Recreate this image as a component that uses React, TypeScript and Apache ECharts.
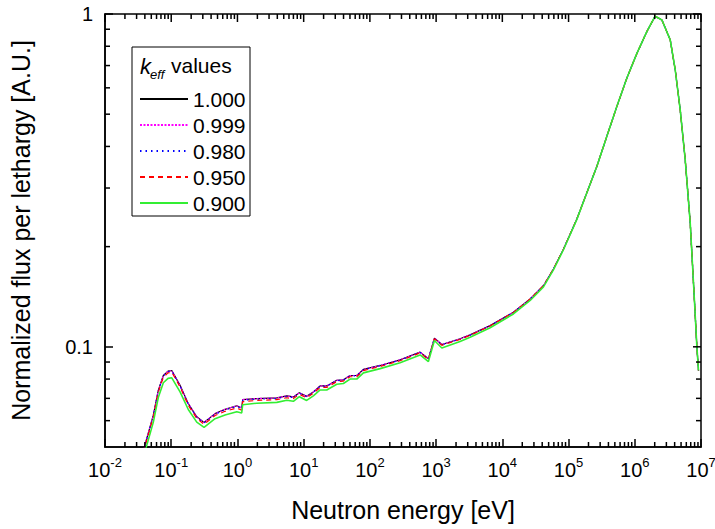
import React, { useEffect, useRef } from 'react';
import * as echarts from 'echarts';

// Neutron energy grid (eV)
const energyEV = [
  0.035, 0.040, 0.0537, 0.0638, 0.076, 0.0895, 0.102, 0.136, 0.181, 0.243,
  0.313, 0.459, 0.65, 0.976, 1.16, 1.2, 1.96, 3.93, 5.56, 6.99,
  8.61, 11.1, 14.0, 17.7, 22.3, 31.6, 39.8, 50.2, 63.4, 79.8,
  143, 286, 573, 765, 943, 1220, 2300, 3260, 6540, 14700,
  26300, 41800, 59100, 83700, 133000, 189000, 268000, 379000, 537000, 760000,
  1080000, 1520000, 2030000, 2570000, 3430000, 4080000, 4850000, 5770000, 6870000, 7890000,
  8670000, 9170000,
];

// Normalized flux per lethargy for each k_eff
const flux1000 = [
  0.0459, 0.0506, 0.0623, 0.0740, 0.0820, 0.0845, 0.0849, 0.0766, 0.0675, 0.0616,
  0.0592, 0.0630, 0.0649, 0.0665, 0.0655, 0.0694, 0.0699, 0.0702, 0.0712, 0.0707,
  0.0728, 0.0710, 0.0732, 0.0763, 0.0763, 0.0793, 0.0796, 0.0820, 0.0820, 0.0855,
  0.0879, 0.0914, 0.0964, 0.0921, 0.1062, 0.1016, 0.1057, 0.1086, 0.1158, 0.1270,
  0.1392, 0.1526, 0.1712, 0.1965, 0.2416, 0.2904, 0.3489, 0.4292, 0.5279, 0.6420,
  0.7627, 0.885, 0.985, 0.959, 0.836, 0.680, 0.516, 0.3655, 0.2362, 0.1424,
  0.0998, 0.0849,
];
const flux0999 = [
  0.0459, 0.0506, 0.0623, 0.0739, 0.0820, 0.0845, 0.0848, 0.0765, 0.0675, 0.0616,
  0.0592, 0.0630, 0.0649, 0.0665, 0.0655, 0.0694, 0.0699, 0.0702, 0.0712, 0.0707,
  0.0728, 0.0710, 0.0732, 0.0763, 0.0763, 0.0793, 0.0796, 0.0820, 0.0820, 0.0855,
  0.0879, 0.0914, 0.0964, 0.0921, 0.1062, 0.1016, 0.1057, 0.1086, 0.1158, 0.1270,
  0.1392, 0.1526, 0.1712, 0.1965, 0.2416, 0.2904, 0.3489, 0.4292, 0.5279, 0.6420,
  0.7627, 0.885, 0.985, 0.959, 0.836, 0.680, 0.516, 0.3655, 0.2362, 0.1424,
  0.0998, 0.0849,
];
const flux0980 = [
  0.0457, 0.0504, 0.0621, 0.0737, 0.0817, 0.0842, 0.0846, 0.0763, 0.0672, 0.0614,
  0.0590, 0.0627, 0.0646, 0.0662, 0.0652, 0.0691, 0.0696, 0.0699, 0.0709, 0.0704,
  0.0725, 0.0708, 0.0730, 0.0761, 0.0761, 0.0791, 0.0794, 0.0818, 0.0818, 0.0853,
  0.0877, 0.0912, 0.0962, 0.0919, 0.1060, 0.1014, 0.1055, 0.1084, 0.1157, 0.1269,
  0.1392, 0.1526, 0.1712, 0.1965, 0.2416, 0.2904, 0.3489, 0.4292, 0.5279, 0.6420,
  0.7627, 0.885, 0.985, 0.959, 0.836, 0.680, 0.516, 0.3655, 0.2362, 0.1424,
  0.0998, 0.0849,
];
const flux0950 = [
  0.0453, 0.0500, 0.0616, 0.0731, 0.0810, 0.0835, 0.0839, 0.0757, 0.0667, 0.0609,
  0.0585, 0.0622, 0.0640, 0.0655, 0.0645, 0.0684, 0.0690, 0.0694, 0.0703, 0.0699,
  0.0720, 0.0703, 0.0725, 0.0755, 0.0755, 0.0786, 0.0789, 0.0813, 0.0813, 0.0848,
  0.0873, 0.0908, 0.0958, 0.0915, 0.1057, 0.1010, 0.1052, 0.1082, 0.1155, 0.1267,
  0.1392, 0.1526, 0.1712, 0.1965, 0.2416, 0.2904, 0.3489, 0.4292, 0.5279, 0.6420,
  0.7627, 0.885, 0.985, 0.959, 0.836, 0.680, 0.516, 0.3655, 0.2362, 0.1424,
  0.0998, 0.0849,
];
const flux0900 = [
  0.0438, 0.0483, 0.0594, 0.0704, 0.0780, 0.0804, 0.0807, 0.0732, 0.0648, 0.0594,
  0.0573, 0.0608, 0.0624, 0.0638, 0.0633, 0.0670, 0.0677, 0.0681, 0.0691, 0.0686,
  0.0708, 0.0690, 0.0712, 0.0742, 0.0742, 0.0772, 0.0776, 0.0800, 0.0800, 0.0835,
  0.0860, 0.0895, 0.0945, 0.0903, 0.1045, 0.0992, 0.1038, 0.1068, 0.1141, 0.1255,
  0.1378, 0.1514, 0.1702, 0.1957, 0.2411, 0.2904, 0.3489, 0.4292, 0.5279, 0.6420,
  0.7627, 0.885, 0.985, 0.959, 0.836, 0.680, 0.516, 0.3655, 0.2362, 0.1424,
  0.0998, 0.0849,
];

const seriesNames = ['1.000', '0.999', '0.980', '0.950', '0.900'];
const xTickExponents = [-2, -1, 0, 1, 2, 3, 4, 5, 6, 7];
const yTickValues = [0.1, 1];
const yMin = 0.05;
const yMax = 1;

const FONT = "'Liberation Sans', Arial, Helvetica, sans-serif";

export default function App() {
  const ref = useRef<HTMLDivElement>(null);

  useEffect(() => {
    document.body.style.margin = '0';
    const chart = echarts.init(ref.current!, null, { renderer: 'svg' });

    const xMin = xTickExponents[0];
    const xMax = xTickExponents[xTickExponents.length - 1];
    const yMinL = Math.log10(yMin);
    const yMaxL = Math.log10(yMax);

    const xMinor: number[] = [];
    for (let n = xMin; n < xMax; n++) {
      for (let k = 2; k <= 9; k++) xMinor.push(n + Math.log10(k));
    }
    const yMinor: number[] = [];
    for (const base of [0.01, 0.1]) {
      for (let k = 2; k <= 9; k++) {
        const v = base * k;
        if (v > yMin + 1e-9 && v < yMax - 1e-9) yMinor.push(Math.log10(v));
      }
    }
    const yMajor = yTickValues.map((v) => Math.log10(v));

    const MAJ = 8;
    const MIN = 5;
    // [x, y, dx(px), dy(px)] — tick starts on an axis and points inward
    const tickData: number[][] = [];
    xTickExponents.forEach((x) => { tickData.push([x, yMaxL, 0, MAJ]); });
    xMinor.forEach((x) => { tickData.push([x, yMinL, 0, -MIN]); tickData.push([x, yMaxL, 0, MIN]); });
    yMajor.forEach((y) => { tickData.push([xMax, y, -MAJ, 0]); });
    yMinor.forEach((y) => { tickData.push([xMin, y, MIN, 0]); tickData.push([xMax, y, -MIN, 0]); });

    const axisLine = { show: true, onZero: false, lineStyle: { color: '#000', width: 1.5 } };
    const majorTick = (vals: number[]) => ({
      show: true, inside: true, length: MAJ, customValues: vals,
      lineStyle: { color: '#000', width: 1.5 },
    });

    const styles = [
      { color: '#000000', type: 'solid', width: 1.2 },
      { color: '#ff00ff', type: [2, 1.5], width: 1.2 },
      { color: '#0000ff', type: [1.5, 4], width: 1.2 },
      { color: '#ff0000', type: [5, 4], width: 1.2 },
      { color: '#33ee33', type: 'solid', width: 1.6 },
    ];
    const fluxes = [flux1000, flux0999, flux0980, flux0950, flux0900];

    const option: any = {
      animation: false,
      grid: {
        left: 105, right: 14, top: 14, bottom: 82, containLabel: false, outerBoundsMode: 'none',
        show: true, borderColor: '#000', borderWidth: 1.5, backgroundColor: 'transparent',
      },
      xAxis: {
        type: 'value', min: xMin, max: xMax, interval: 1,
        splitLine: { show: false }, axisLine, axisTick: majorTick(xTickExponents),
        name: 'Neutron energy [eV]', nameLocation: 'middle', nameGap: 50,
        nameTextStyle: { fontSize: 25, color: '#000', fontFamily: FONT },
        axisLabel: {
          show: true, margin: 9,
          formatter: (v: number) => `{b|10}{s|${Math.round(v)}}`,
          rich: {
            b: { fontSize: 20, fontFamily: FONT, color: '#000', lineHeight: 28 },
            s: { fontSize: 13, fontFamily: FONT, color: '#000', lineHeight: 13, verticalAlign: 'top' },
          },
        },
      },
      yAxis: {
        type: 'value', min: yMinL, max: yMaxL,
        splitLine: { show: false }, axisLine, axisTick: majorTick(yMajor),
        name: 'Normalized flux per lethargy [A.U.]', nameLocation: 'middle', nameGap: 72,
        nameTextStyle: { fontSize: 25, color: '#000', fontFamily: FONT },
        axisLabel: {
          show: true, margin: 12, fontSize: 20, color: '#000', fontFamily: FONT,
          customValues: yMajor,
          formatter: (v: number) => {
            const t = yTickValues.find((tv) => Math.abs(Math.log10(tv) - v) < 1e-6);
            return t === undefined ? '' : String(t);
          },
        },
      },
      legend: {
        orient: 'vertical', left: 139, top: 86, padding: 0,
        itemWidth: 48, itemHeight: 14, itemGap: 0, selectedMode: false,
        itemStyle: { color: 'rgba(0,0,0,0)', borderWidth: 0, opacity: 0 },
        textStyle: { fontSize: 21, fontFamily: FONT, color: '#000', lineHeight: 26 },
        data: seriesNames,
      },
      graphic: [
        {
          type: 'rect', z: 100,
          shape: { x: 132, y: 47, width: 118, height: 169 },
          style: { fill: 'none', stroke: '#000', lineWidth: 1 },
        },
        { type: 'text', z: 100, x: 140, y: 55, style: { text: 'k', font: `italic 22px ${FONT}`, fill: '#000', verticalAlign: 'top' } },
        { type: 'text', z: 100, x: 150, y: 68, style: { text: 'eff', font: `italic 13px ${FONT}`, fill: '#000', verticalAlign: 'top' } },
        { type: 'text', z: 100, x: 171, y: 55, style: { text: 'values', font: `21px ${FONT}`, fill: '#000', verticalAlign: 'top' } },
      ],
      series: [
        ...seriesNames.map((name, si) => ({
          name,
          type: 'line',
          symbol: 'none',
          showSymbol: false,
          z: 2 + si,
          itemStyle: { color: styles[si].color },
          lineStyle: { color: styles[si].color, type: styles[si].type, width: styles[si].width },
          data: energyEV.map((e, i) => [Math.log10(e), Math.log10(fluxes[si][i])]),
        })),
        {
          type: 'custom',
          encode: { x: 0, y: 1 },
          clip: false,
          z: 20,
          data: tickData,
          renderItem: (params: any, api: any) => {
            const p = api.coord([api.value(0), api.value(1)]);
            const dx = api.value(2);
            const dy = api.value(3);
            const w = 1.5;
            return {
              type: 'rect',
              shape: dx === 0
                ? { x: p[0] - w / 2, y: Math.min(p[1], p[1] + dy), width: w, height: Math.abs(dy) }
                : { x: Math.min(p[0], p[0] + dx), y: p[1] - w / 2, width: Math.abs(dx), height: w },
              style: { fill: '#000' },
            };
          },
        },
      ],
    };

    chart.setOption(option);
    return () => chart.dispose();
  }, []);

  return <div ref={ref} style={{ position: 'absolute', left: 0, top: 0, width: 715, height: 529 }} />;
}
